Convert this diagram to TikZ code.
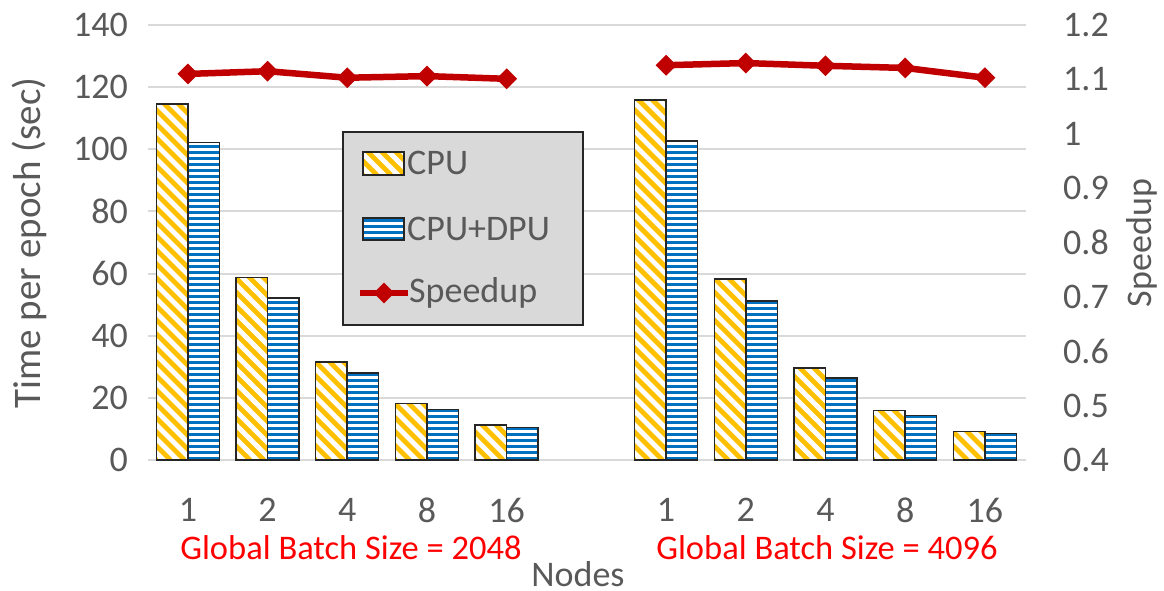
\documentclass[tikz,border=0pt]{standalone}
\usepackage{fontspec}
\setmainfont{Carlito}
\usetikzlibrary{shapes.geometric}
\definecolor{txt}{HTML}{595959}
\definecolor{gridc}{HTML}{D9D9D9}
\definecolor{cpuY}{HTML}{FFC000}
\definecolor{dpuB}{HTML}{0070C0}
\definecolor{spd}{HTML}{C00000}
\definecolor{legbg}{HTML}{D9D9D9}
\definecolor{frame}{HTML}{262626}
\tikzset{
  gridline/.style={gridc, line width=2pt},
  barframe/.style={draw=frame, line width=1.5pt},
  ticklab/.style={text=txt, font=\fontsize{36}{40}\selectfont, inner sep=0pt},
  grouplab/.style={text=red, font=\fontsize{34.5}{38}\selectfont, inner sep=0pt},
  marker/.style={diamond, fill=spd, inner sep=0pt, minimum width=21pt, minimum height=21pt},
  spdline/.style={spd, line width=6.5pt, line join=round},
}
\newcommand\cpupatt[4]{% x1 y1 x2 y2 (pixel coords, y1 = bottom)
  \begin{scope}
    \clip (#1,#2) rectangle (#3,#4);
    \fill[white] (#1,#2) rectangle (#3,#4);
    \foreach \k in {0,...,32}{\draw[cpuY,line width=4.8pt] (#1+\k*14,#2) -- ++(-440,-440);}
  \end{scope}
  \draw[barframe] (#1,#2) rectangle (#3,#4);
}
\newcommand\dpupatt[4]{%
  \begin{scope}
    \clip (#1,#2) rectangle (#3,#4);
    \fill[white] (#1,#2) rectangle (#3,#4);
    \foreach \k in {0,...,64}{\draw[dpuB,line width=3pt] (#1,#2-1.5-\k*6) -- (#3,#2-1.5-\k*6);}
  \end{scope}
  \draw[barframe] (#1,#2) rectangle (#3,#4);
}
\newcommand\barpair[3]{% center, cpu value, dpu value
  \pgfmathsetmacro\cTop{460-#2*3.107}%
  \pgfmathsetmacro\dTop{460-#3*3.107}%
  \pgfmathsetmacro\bL{#1-31.5}%
  \pgfmathsetmacro\bR{#1+31.5}%
  \cpupatt{\bL}{460}{#1}{\cTop}
  \dpupatt{#1}{460}{\bR}{\dTop}
}
\begin{document}
\begin{tikzpicture}[x=1pt,y=-1pt]
\useasboundingbox (0,0) rectangle (1164,591);
% grid
\foreach \v in {0,20,...,140}{
  \draw[gridline] (148,{460-\v*3.107}) -- (1026,{460-\v*3.107});
  \node[ticklab, anchor=east] (l\v) at (128,{460-\v*3.107}) {\v};
}
\foreach \s/\lab [count=\i from 0] in {0.4/0.4,0.5/0.5,0.6/0.6,0.7/0.7,0.8/0.8,0.9/0.9,1.0/1,1.1/1.1,1.2/1.2}{
  \node[ticklab, anchor=west] (r\i) at (1063,{460-\i*54.375}) {\lab};
}
% bars
\barpair{187.9}{114.5}{102.2}
\barpair{267.6}{58.8}{52.1}
\barpair{347.2}{31.5}{28.0}
\barpair{427.0}{18.2}{16.3}
\barpair{506.7}{11.3}{10.5}
\barpair{666.1}{115.9}{102.7}
\barpair{745.8}{58.3}{51.2}
\barpair{825.5}{29.6}{26.4}
\barpair{905.2}{15.9}{14.4}
\barpair{984.9}{9.1}{8.5}
% speedup
\foreach \x/\s [count=\i] in {187.9/1.110,267.6/1.115,347.2/1.103,427.0/1.106,506.7/1.101,666.1/1.126,745.8/1.130,825.5/1.125,905.2/1.121,984.9/1.103}{
  \node[marker] (m\i) at (\x,{460-(\s-0.4)*543.75}) {};
}
\draw[spdline] (m1.center) -- (m2.center) -- (m3.center) -- (m4.center) -- (m5.center);
\draw[spdline] (m6.center) -- (m7.center) -- (m8.center) -- (m9.center) -- (m10.center);
% category labels
\foreach \x/\t [count=\i] in {187.9/1,267.6/2,347.2/4,427.0/8,506.7/16,666.1/1,745.8/2,825.5/4,905.2/8,984.9/16}{
  \node[ticklab] (c\i) at (\x,510) {\t};
}
\node[grouplab] (g1) at (351,548) {Global Batch Size = 2048};
\node[grouplab] (g2) at (827,548) {Global Batch Size = 4096};
\node[ticklab] (xt) at (578,574) {Nodes};
\node[ticklab, rotate=90, font=\fontsize{39}{43}\selectfont] (yt) at (29,243) {Time per epoch (sec)};
\node[ticklab, rotate=90] (y2t) at (1142,243) {Speedup};
% legend
\node[draw=frame, fill=legbg, line width=1.5pt, minimum width=240pt, minimum height=193pt, inner sep=0pt] (leg) at (463,228.5) {};
\cpupatt{363}{175}{404}{152}
\dpupatt{363}{240}{404}{218}
\coordinate (la) at (360,293);
\coordinate (lb) at (408,293);
\draw[spdline] (la) -- (lb);
\node[marker] (lm) at (384,293) {};
\node[ticklab, anchor=west] (t1) at (407,163) {CPU};
\node[ticklab, anchor=west] (t2) at (407,229) {CPU+DPU};
\node[ticklab, anchor=west] (t3) at (409,293) {Speedup};
\end{tikzpicture}
\end{document}
